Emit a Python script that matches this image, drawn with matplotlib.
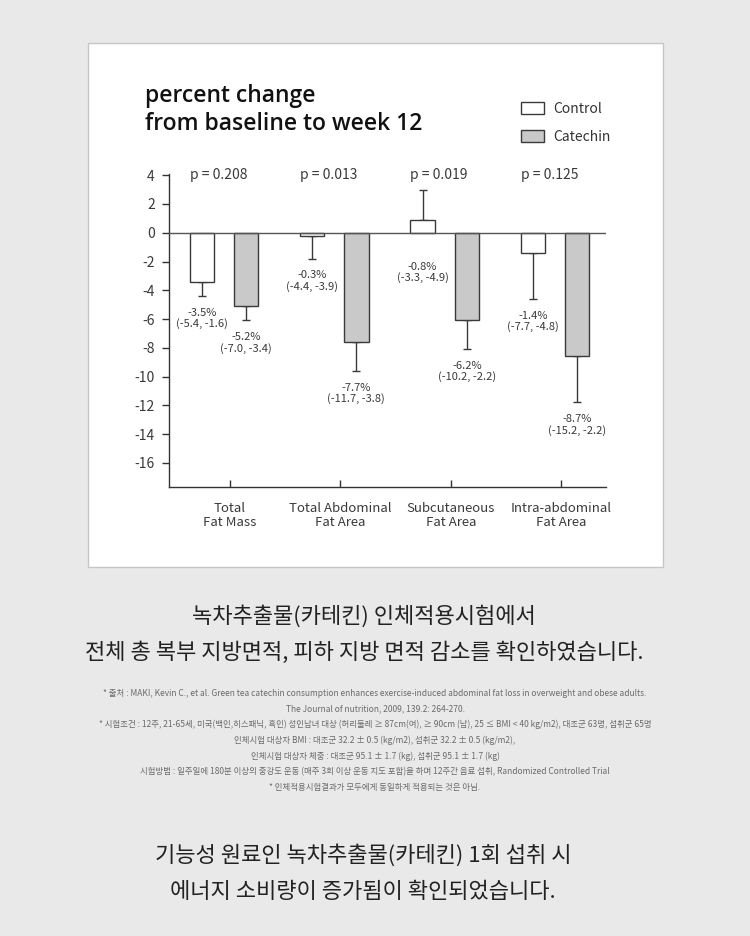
import numpy as np
import matplotlib
matplotlib.use("Agg")
import matplotlib.pyplot as plt
from matplotlib.patches import Rectangle, Patch

plt.rcParams['font.family'] = ['Noto Sans CJK KR', 'DejaVu Sans']
plt.rcParams['axes.unicode_minus'] = False

# data
groups = ["Total\nFat Mass", "Total Abdominal\nFat Area", "Subcutaneous\nFat Area", "Intra-abdominal\nFat Area"]
control = [-3.4, -0.2, 0.9, -1.4]
control_err = [1.0, 1.6, 2.1, 3.2]
catechin = [-5.1, -7.6, -6.1, -8.6]
catechin_err = [1.0, 2.0, 2.0, 3.2]
control_labels = ["-3.5%\n(-5.4, -1.6)", "-0.3%\n(-4.4, -3.9)", "-0.8%\n(-3.3, -4.9)", "-1.4%\n(-7.7, -4.8)"]
catechin_labels = ["-5.2%\n(-7.0, -3.4)", "-7.7%\n(-11.7, -3.8)", "-6.2%\n(-10.2, -2.2)", "-8.7%\n(-15.2, -2.2)"]
p_values = ["p = 0.208", "p = 0.013", "p = 0.019", "p = 0.125"]
yticks = list(range(-16, 5, 2))

heading_top = ["녹차추출물(카테킨) 인체적용시험에서",
               "전체 총 복부 지방면적, 피하 지방 면적 감소를 확인하였습니다."]
footnotes = [
    "* 출처 : MAKI, Kevin C., et al. Green tea catechin consumption enhances exercise-induced abdominal fat loss in overweight and obese adults.",
    "The Journal of nutrition, 2009, 139.2: 264-270.",
    "* 시험조건 : 12주, 21-65세, 미국(백인,히스패닉, 흑인) 성인남녀 대상 (허리둘레 ≥ 87cm(여), ≥ 90cm (남), 25 ≤ BMI < 40 kg/m2), 대조군 63명, 섭취군 65명",
    "인체시험 대상자 BMI : 대조군 32.2 ± 0.5 (kg/m2), 섭취군 32.2 ± 0.5 (kg/m2),",
    "인체시험 대상자 체중 : 대조군 95.1 ± 1.7 (kg), 섭취군 95.1 ± 1.7 (kg)",
    "시험방법 : 일주일에 180분 이상의 중강도 운동 (매주 3회 이상 운동 지도 포함)을 하며 12주간 음료 섭취, Randomized Controlled Trial",
    "* 인체적용시험결과가 모두에게 동일하게 적용되는 것은 아님.",
]
heading_bottom = ["기능성 원료인 녹차추출물(카테킨) 1회 섭취 시",
                  "에너지 소비량이 증가됨이 확인되었습니다."]

W, H = 750, 936
fig = plt.figure(figsize=(W / 100, H / 100), dpi=100)
fig.patch.set_facecolor('#e9e9e9')

def fx(x):
    return x / W

def fy(y):
    return 1 - y / H

# white card behind the chart
fig.patches.append(Rectangle((fx(88), fy(567)), (663 - 88) / W, (567 - 43) / H,
                             transform=fig.transFigure, facecolor='white',
                             edgecolor='#c6c6c6', lw=1, zorder=-5))

ax = fig.add_axes([fx(168.6), fy(487), (606 - 168.6) / W, (487 - 173.5) / H])
ax.set_facecolor('none')

x = np.arange(len(groups))
off = 0.2
bw = 0.22
ctrl = np.array(control)
cat = np.array(catechin)
ce = np.array(control_err)
ke = np.array(catechin_err)

ax.bar(x - off, ctrl, bw, facecolor='white', edgecolor='#3a3a3a', lw=1, zorder=3)
ax.bar(x + off, cat, bw, facecolor='#c9c9c9', edgecolor='#3a3a3a', lw=1, zorder=3)

for xs, v, e in [(x - off, ctrl, ce), (x + off, cat, ke)]:
    lower = np.where(v < 0, e, 0)
    upper = np.where(v > 0, e, 0)
    ax.errorbar(xs, v, yerr=[lower, upper], fmt='none', ecolor='#3a3a3a',
                elinewidth=1, capsize=3, capthick=1, zorder=2)

ax.axhline(0, color='#555555', lw=1, zorder=4)

lab_font = dict(fontsize=8, color='#3a3a3a', ha='center', va='top', linespacing=1.05)
for xs, v, e, labs in [(x - off, ctrl, ce, control_labels), (x + off, cat, ke, catechin_labels)]:
    for xi, vi, ei, t in zip(xs, v, e, labs):
        anchor = min(0, vi - ei)
        ax.annotate(t, (xi, anchor), xytext=(0, -8.5), textcoords='offset points', **lab_font)

for xi, t in zip(x, p_values):
    ax.text(xi - 0.05, 4, t, fontsize=10, color='#3a3a3a', ha='center', va='center')

ax.set_xlim(-0.5, 3.46)
ax.set_ylim(-17.68, 4.12)
ax.set_yticks(yticks)
ax.set_yticklabels([str(t) for t in yticks], fontsize=10, color='#3a3a3a')
ax.set_xticks(x + 0.055)
ax.set_xticklabels(groups, fontsize=9.5, color='#3a3a3a', linespacing=1.1)
ax.tick_params(axis='y', direction='out', length=5, width=1, color='#333333', pad=5)
ax.tick_params(axis='x', direction='in', length=5.3, width=1, color='#333333', pad=10.5)
for s in ['top', 'right']:
    ax.spines[s].set_visible(False)
for s in ['left', 'bottom']:
    ax.spines[s].set_color('#333333')
    ax.spines[s].set_linewidth(1)

# title
title_font = dict(fontsize=16.5, family=['Open Sans', 'DejaVu Sans'], weight='semibold',
                  color='#111111', ha='left', va='baseline')
fig.text(fx(145.4), fy(102), "percent change", **title_font)
fig.text(fx(145.4), fy(129.5), "from baseline to week 12", **title_font)

handles = [Patch(facecolor='white', edgecolor='#3a3a3a', lw=1),
           Patch(facecolor='#c9c9c9', edgecolor='#3a3a3a', lw=1)]
fig.legend(handles, ["Control", "Catechin"], loc='upper left',
           bbox_to_anchor=(fx(521), fy(102)), frameon=False, fontsize=10,
           handlelength=1.63, handleheight=0.94, handletextpad=0.72,
           labelspacing=1.0, borderpad=0, borderaxespad=0, labelcolor='#333333')

# korean text below the card
for t, y in zip(heading_top, [616, 653]):
    fig.text(fx(364), fy(y), t, fontsize=15.9, color='#222222',
             ha='center', va='center')
for i, t in enumerate(footnotes):
    fig.text(fx(375), fy(693 + i * 15.8), t, fontsize=6.05, color='#6a6a6a',
             ha='center', va='center')
for t, y in zip(heading_bottom, [855, 892]):
    fig.text(fx(363), fy(y), t, fontsize=15.9, color='#222222',
             ha='center', va='center')

fig.savefig('out.png', dpi=100, facecolor=fig.get_facecolor())
